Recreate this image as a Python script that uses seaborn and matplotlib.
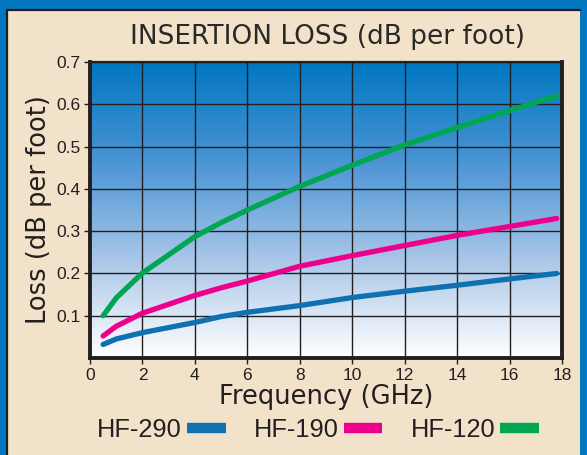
import numpy as np
import pandas as pd
import matplotlib.pyplot as plt
import matplotlib.patches as mpatches
from matplotlib.colors import LinearSegmentedColormap
import seaborn as sns

# values
cables = ['HF-290', 'HF-190', 'HF-120']
freq_ghz = [0.5, 1, 2, 4, 5, 6, 8, 10, 12, 14, 16, 17.8]
loss_hf290 = [0.032, 0.045, 0.060, 0.084, 0.098, 0.108, 0.124, 0.143, 0.158, 0.172, 0.187, 0.200]
loss_hf190 = [0.052, 0.075, 0.106, 0.148, 0.166, 0.182, 0.217, 0.242, 0.266, 0.290, 0.311, 0.330]
loss_hf120 = [0.100, 0.142, 0.201, 0.287, 0.320, 0.350, 0.406, 0.456, 0.504, 0.545, 0.585, 0.620]
x_ticks = list(range(0, 19, 2))
y_ticks = [0.1, 0.2, 0.3, 0.4, 0.5, 0.6, 0.7]
colors = {'HF-290': '#0f70b2', 'HF-190': '#ec008c', 'HF-120': '#00a651'}

INK = '#231f20'
BEIGE = '#f2e2c9'
OUTER = '#0077c0'


def build_frame():
    rows = []
    for name, vals in zip(cables, [loss_hf290, loss_hf190, loss_hf120]):
        for f, v in zip(freq_ghz, vals):
            rows.append({'freq': f, 'loss': v, 'cable': name})
    return pd.DataFrame(rows)


def main():
    sns.set_theme(style='white')
    plt.rcParams['font.family'] = ['Liberation Sans', 'DejaVu Sans']

    fig = plt.figure(figsize=(5.87, 4.55), dpi=100, facecolor=OUTER)

    # beige panel with a dark edge on top and left, kept behind the axes
    fig.patches.append(mpatches.Rectangle((7 / 587, 0), 573 / 587, 1 - 10 / 455,
                                          transform=fig.transFigure, facecolor=BEIGE,
                                          edgecolor='none', zorder=-2))
    fig.lines.append(plt.Line2D([7 / 587, 580 / 587], [1 - 10 / 455] * 2,
                                transform=fig.transFigure, color=INK, lw=1.6, zorder=-1))
    fig.lines.append(plt.Line2D([7 / 587] * 2, [0, 1 - 10 / 455],
                                transform=fig.transFigure, color=INK, lw=1.6, zorder=-1))

    ax = fig.add_axes([90 / 587, 1 - 358 / 455, 472 / 587, 296 / 455])
    ax.set_zorder(2)

    # blue-to-white gradient background
    cmap = LinearSegmentedColormap.from_list('sky', ['#ffffff', '#a9c6e8', '#4a94d4', '#0077c0'])
    grad = np.linspace(0, 1, 256).reshape(-1, 1)
    ax.imshow(grad, cmap=cmap, origin='lower', extent=[0, 18, 0, 0.7],
              aspect='auto', zorder=0)

    df = build_frame()
    sns.lineplot(data=df, x='freq', y='loss', hue='cable', hue_order=cables,
                 palette=colors, linewidth=3.8, ax=ax, zorder=3)

    ax.set_xlim(0, 18)
    ax.set_ylim(0, 0.7)
    ax.set_xticks(x_ticks)
    ax.set_yticks(y_ticks)
    ax.set_xticklabels([str(t) for t in x_ticks])
    ax.set_yticklabels([f'{t:.1f}' for t in y_ticks])
    ax.grid(True, color=INK, linewidth=1.0)
    for ln in ax.get_xgridlines() + ax.get_ygridlines():
        ln.set_zorder(1)
    ax.tick_params(axis='both', direction='out', length=4, width=1, color=INK,
                   labelsize=12.5, labelcolor=INK, pad=3)
    ax.tick_params(axis='both', bottom=True, left=True)
    for side in ['left', 'bottom', 'right']:
        ax.spines[side].set_linewidth(2.8)
        ax.spines[side].set_color(INK)
    ax.spines['top'].set_linewidth(1.6)
    ax.spines['top'].set_color(INK)

    # the wide geometric face of the original is closest to DejaVu Sans
    ax.set_xlabel('Frequency (GHz)', fontsize=18.5, color=INK, labelpad=1,
                  family=['DejaVu Sans'])
    ax.set_ylabel('Loss (dB per foot)', fontsize=18.5, color=INK, labelpad=3,
                  family=['DejaVu Sans'])
    fig.text(328 / 587, 1 - 37.5 / 455, 'INSERTION LOSS (dB per foot)', ha='center',
             va='center', fontsize=19, color='#2b2828', family=['DejaVu Sans'])

    handles, labels = ax.get_legend_handles_labels()
    ax.get_legend().remove()
    for h in handles:
        h.set_linewidth(7.5)
        h.set_solid_capstyle('butt')
    fig.legend(handles, labels, loc='center', bbox_to_anchor=(318 / 587, 1 - 430 / 455),
               ncol=3, markerfirst=False, frameon=False, fontsize=18.3,
               handlelength=1.53, handletextpad=0.2, columnspacing=1.1,
               labelcolor=INK)

    fig.savefig('out.png', dpi=100, facecolor=OUTER)


if __name__ == '__main__':
    main()
